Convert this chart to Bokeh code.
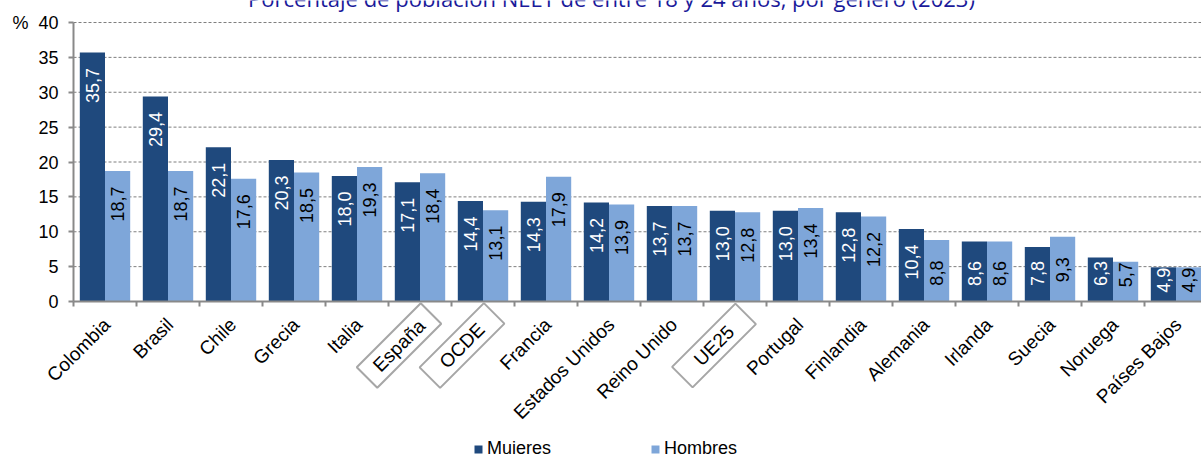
import numpy as np
from math import pi
from bokeh.plotting import figure
from bokeh.models import (Range1d, FixedTicker, Label, Legend, LegendItem,
                          ColumnDataSource, LinearAxis)
from bokeh.core.properties import value
from bokeh.embed import file_html
from bokeh.resources import INLINE

# ---------------- data ----------------
categories = ["Colombia", "Brasil", "Chile", "Grecia", "Italia", "España", "OCDE",
              "Francia", "Estados Unidos", "Reino Unido", "UE25", "Portugal",
              "Finlandia", "Alemania", "Irlanda", "Suecia", "Noruega", "Países Bajos"]
mujeres = [35.7, 29.4, 22.1, 20.3, 18.0, 17.1, 14.4, 14.3, 14.2, 13.7, 13.0, 13.0,
           12.8, 10.4, 8.6, 7.8, 6.3, 4.9]
hombres = [18.7, 18.7, 17.6, 18.5, 19.3, 18.4, 13.1, 17.9, 13.9, 13.7, 12.8, 13.4,
           12.2, 8.8, 8.6, 9.3, 5.7, 4.9]
boxed = ["España", "OCDE", "UE25"]
y_ticks = [0, 5, 10, 15, 20, 25, 30, 35, 40]
series_names = ["Mujeres", "Hombres"]
title_text = "Porcentaje de población NEET de entre 18 y 24 años, por género (2023)"
unit_text = "%"

# ---------------- style / geometry ----------------
DARK = "#1F497D"
LIGHT = "#7EA6D9"
AXIS = "#898989"
FONT = "Liberation Sans"
CAT_FS = 19

W, H = 1201, 454
X0 = 73          # pixel of x = 0 (y axis)
Y0 = 301         # pixel of y = 0 (x axis)
Y40 = 22         # pixel of y = 40
PPX = 63.0
PPY = (Y0 - Y40) / 40.0


def dx(px):
    return px / PPX


def dy(px):
    return px / PPY


p = figure(width=W, height=H,
           x_range=Range1d(-dx(X0), dx(W - X0)),
           y_range=Range1d(-dy(H - Y0), dy(Y0)),
           x_axis_type=None, y_axis_type=None,
           output_backend="svg", toolbar_location=None,
           min_border=0, min_border_left=0, min_border_right=0,
           min_border_top=0, min_border_bottom=0)
p.outline_line_color = None
p.background_fill_color = "white"
p.xgrid.visible = False
p.ygrid.visible = False

n = len(categories)
idx = np.arange(n)
m_arr = np.array(mujeres)
h_arr = np.array(hombres)

# gridlines (behind bars)
grid_y = [t for t in y_ticks if t > 0]
p.segment(x0=[0] * len(grid_y), x1=[dx(W - X0)] * len(grid_y), y0=grid_y, y1=grid_y,
          line_color="#7F7F7F", line_dash="3 2", line_width=1)


def label_y(v):
    return np.maximum(v - dy(33), np.minimum(dy(28), v - dy(13)))


fmt = lambda v: f"{v:.1f}".replace(".", ",")

src = ColumnDataSource(dict(
    xm=idx + 0.3, xh=idx + 0.7, m=m_arr, h=h_arr,
    ym=label_y(m_arr), yh=label_y(h_arr),
    tm=[fmt(v) for v in mujeres], th=[fmt(v) for v in hombres],
))

rm = p.vbar(x="xm", top="m", width=0.4, source=src, fill_color=DARK, line_color=None)
rh = p.vbar(x="xh", top="h", width=0.4, source=src, fill_color=LIGHT, line_color=None)

p.text(x="xm", y="ym", text="tm", source=src, angle=pi / 2, text_align="center",
       text_baseline="middle", text_color="white", text_font=value(FONT),
       text_font_size="18px")
p.text(x="xh", y="yh", text="th", source=src, angle=pi / 2, text_align="center",
       text_baseline="middle", text_color="black", text_font=value(FONT),
       text_font_size="18px")

# ---------------- axes ----------------
xaxis = LinearAxis(fixed_location=0, bounds=(0, n),
                   ticker=FixedTicker(ticks=[], minor_ticks=list(range(0, n + 1))))
xaxis.axis_line_color = AXIS
xaxis.axis_line_width = 2
xaxis.major_tick_line_color = None
xaxis.minor_tick_line_color = AXIS
xaxis.minor_tick_line_width = 2
xaxis.minor_tick_out = 5
xaxis.minor_tick_in = 0
p.add_layout(xaxis, "below")

yaxis = LinearAxis(fixed_location=0, bounds=(0, 40), ticker=FixedTicker(ticks=y_ticks))
yaxis.major_label_text_font = FONT
yaxis.major_label_text_font_size = "18px"
yaxis.major_label_text_color = "black"
yaxis.major_label_standoff = 10
yaxis.major_tick_out = 5
yaxis.major_tick_in = 0
yaxis.minor_tick_line_color = None
yaxis.axis_line_color = AXIS
yaxis.axis_line_width = 2
yaxis.major_tick_line_color = AXIS
yaxis.major_tick_line_width = 2
p.add_layout(yaxis, "left")

# ---------------- category labels ----------------
text_em = {"España": 3.391, "OCDE": 2.889, "UE25": 2.501}
for i, cat in enumerate(categories):
    cx = i + 0.5
    if cat in boxed:
        tw = text_em[cat] * CAT_FS
        ph = int(round((90 - tw) / 2))
        lab = Label(x=cx - dx(21), y=-dy(44), text=cat, angle=pi / 4,
                    text_align="center", text_baseline="middle",
                    text_font=FONT, text_font_size=f"{CAT_FS}px", text_color="black",
                    background_fill_color="white",
                    border_line_color="#A6A6A6", border_line_width=2,
                    padding=dict(left=ph, right=ph, top=4, bottom=4))
    else:
        lab = Label(x=cx + dx(2), y=-dy(20), text=cat, angle=pi / 4,
                    text_align="right", text_baseline="middle",
                    text_font=FONT, text_font_size=f"{CAT_FS}px", text_color="black")
    p.add_layout(lab)

# "%" unit label
p.add_layout(Label(x=-dx(X0 - 12), y=40, text=unit_text, text_align="left",
                   text_baseline="middle", text_font=FONT, text_font_size="18px",
                   text_color="black"))

# title (cut at the top edge as in the reference)
p.add_layout(Label(x=dx(611 - X0), y=dy(Y0 - 12), text=title_text,
                   text_align="center", text_baseline="bottom",
                   text_font="Open Sans", text_font_size="22px",
                   text_color="#1A1A9A"))

# ---------------- legend ----------------
for name, rend, lx in [(series_names[0], rm, 473), (series_names[1], rh, 650)]:
    leg = Legend(items=[LegendItem(label=name, renderers=[rend])],
                 location=(lx, -5), orientation="horizontal",
                 glyph_width=10, glyph_height=10, label_standoff=4,
                 label_text_font=FONT, label_text_font_size="18px",
                 label_text_color="black", label_height=18,
                 border_line_color=None, background_fill_alpha=0,
                 padding=0, margin=0, spacing=0)
    p.add_layout(leg)

open("out.html", "w").write(file_html(p, INLINE))
